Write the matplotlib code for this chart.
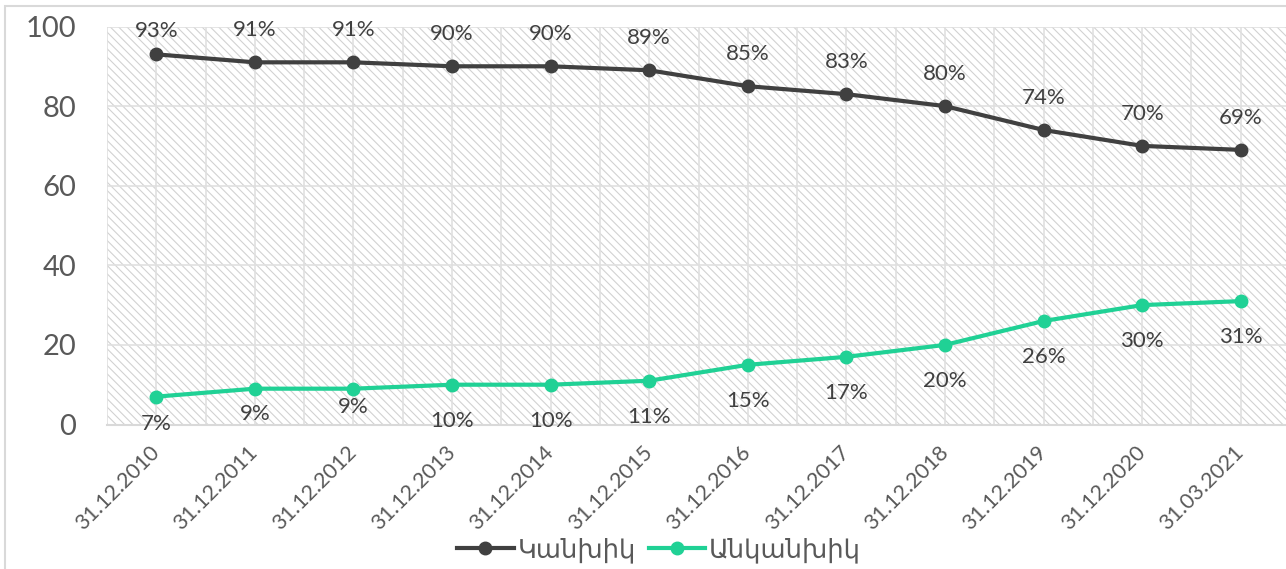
#!/usr/bin/env python3

import matplotlib
matplotlib.use("Agg")
import matplotlib.pyplot as plt
import matplotlib.patches as patches
import numpy as np

dates = ["31.12.2010", "31.12.2011", "31.12.2012", "31.12.2013", "31.12.2014", "31.12.2015",
         "31.12.2016", "31.12.2017", "31.12.2018", "31.12.2019", "31.12.2020", "31.03.2021"]
cash = [93, 91, 91, 90, 90, 89, 85, 83, 80, 74, 70, 69]
noncash = [7, 9, 9, 10, 10, 11, 15, 17, 20, 26, 30, 31]
series_names = ["Կանխիկ", "Անկանխիկ"]
y_ticks = [0, 20, 40, 60, 80, 100]

# label offsets (points) as placed in the source chart
cash_offsets = [17, 23, 23, 23, 23, 23, 23, 23, 23, 23, 23, 23]
noncash_offsets = [-20, -18, -13, -26, -26, -26, -26, -26, -26, -26, -26, -26]

plt.rcParams['font.family'] = ['Lato', 'DejaVu Sans']
plt.rcParams['hatch.linewidth'] = 0.8

W, H = 1286, 569
fig = plt.figure(figsize=(W / 100, H / 100), dpi=100)

# outer chart frame (right/bottom cut off like the source)
fig.add_artist(patches.Rectangle((5 / W, -0.1), 1.2, (H - 6) / H + 0.1,
                                 transform=fig.transFigure, facecolor='none',
                                 edgecolor='#d9d9d9', linewidth=1.5))

ax = fig.add_axes([107 / W, (H - 424.5) / H, (1290 - 107) / W, (424.5 - 26.5) / H])
x = np.arange(len(dates))

# hatched plot area
ax.add_patch(patches.Rectangle((0, 0), 1, 1, transform=ax.transAxes,
                               facecolor='white', edgecolor='#d2d2d2',
                               linewidth=0, hatch='\\\\\\\\', zorder=0.1))

ax.plot(x, cash, color='#404040', linewidth=3, marker='o', markersize=9,
        label=series_names[0], zorder=3, clip_on=False)
ax.plot(x, noncash, color='#20d195', linewidth=3, marker='o', markersize=9,
        label=series_names[1], zorder=3, clip_on=False)

for xi, v, off in zip(x, cash, cash_offsets):
    ax.annotate(f"{v}%", (xi, v), xytext=(0, off), textcoords='offset points',
                ha='center', va='center', fontsize=16, color='#404040', annotation_clip=False)
for xi, v, off in zip(x, noncash, noncash_offsets):
    ax.annotate(f"{v}%", (xi, v), xytext=(0, off), textcoords='offset points',
                ha='center', va='center', fontsize=16, color='#404040', annotation_clip=False)

ax.set_xlim(-0.5, len(dates) - 0.5)
ax.set_ylim(0, 100)
ax.set_yticks(y_ticks)
ax.set_xticks(x, labels=dates)
ax.set_xticks(np.arange(-0.5, len(dates), 1.0), minor=True)
ax.tick_params(axis='y', length=0, pad=22, labelsize=21, labelcolor='#595959')
ax.tick_params(axis='x', which='both', length=0, pad=18, labelsize=15.5, labelcolor='#595959')
for lbl in ax.get_xticklabels():
    lbl.set_rotation(45)
    lbl.set_ha('right')
    lbl.set_va('center')
    lbl.set_rotation_mode('anchor')

ax.set_axisbelow(True)
ax.grid(True, which='both', color='#e0e0e0', linewidth=1.2, zorder=0.5)
for s in ['top', 'right', 'left']:
    ax.spines[s].set_visible(False)
ax.spines['bottom'].set_color('#d9d9d9')
ax.spines['bottom'].set_linewidth(1.5)

fig.legend(loc='center', bbox_to_anchor=(659 / W, 1 - 550 / H), ncol=2, frameon=False,
           fontsize=18.5, handlelength=2.2, handletextpad=0.15, columnspacing=0.5,
           labelcolor='#595959', borderaxespad=0, borderpad=0)

plt.savefig('out.png', dpi=100)
